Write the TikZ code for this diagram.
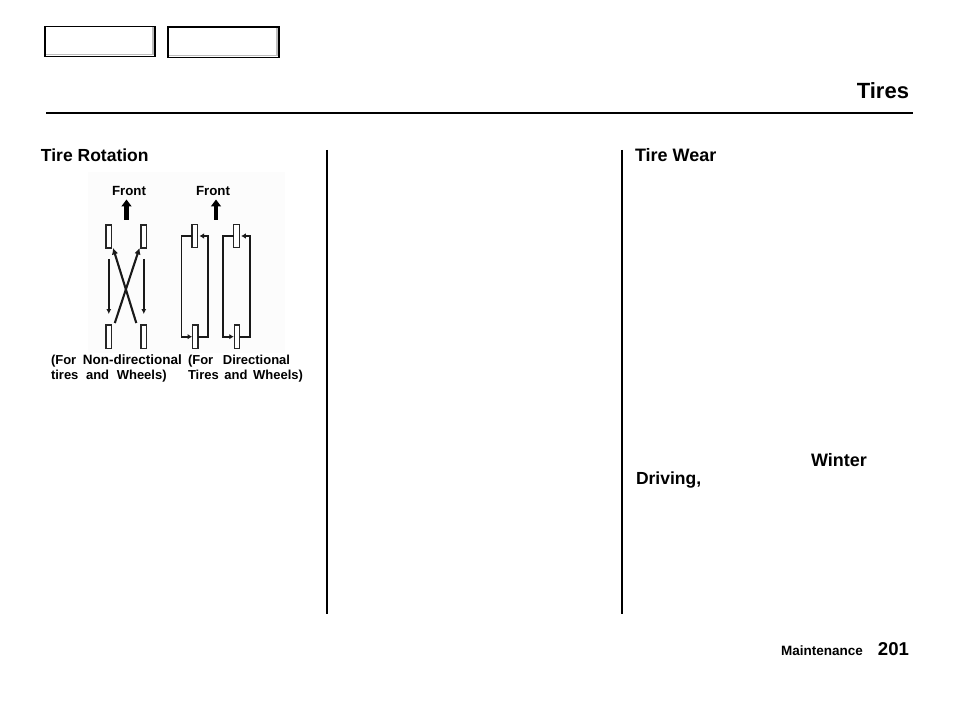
\documentclass[tikz,border=0pt]{standalone}
\usepackage{fontspec}
\setmainfont{Liberation Sans}
\usetikzlibrary{arrows.meta}
\definecolor{btnshadow}{HTML}{BDBDBD}
\newcommand{\bfs}[1]{\fontsize{#1}{#1}\selectfont\bfseries}
\tikzset{
  x=1pt,y=-1pt,
  lbl/.style={inner sep=0pt,outer sep=0pt,anchor=base west},
  lble/.style={inner sep=0pt,outer sep=0pt,anchor=base east},
  heading/.style={lbl,font=\bfs{17.5}},
  headingw/.style={lbl,font=\bfs{18}},
  caption/.style={lbl,font=\bfs{13}},
  frontlbl/.style={inner sep=0pt,outer sep=0pt,anchor=base,font=\bfs{13.3}},
  tire/.style={draw=black!85,line width=1.3pt,fill=white,minimum width=5.5pt,minimum height=22.8pt,inner sep=0pt,outer sep=0pt},
  tireb/.style={tire,minimum height=23.3pt},
  rule/.style={draw=black,line width=1.5pt},
  thin arrow/.style={draw=black!90,line width=1.6pt,-{Latex[length=5pt,width=5pt]}},
  cross arrow/.style={draw=black!90,line width=2.1pt,-{Latex[length=6.5pt,width=6.5pt]}},
  loop arrow/.style={draw=black!90,line width=1.8pt,-{Latex[length=4.5pt,width=5.5pt]}},
  big arrow/.style={draw=black,line width=4.6pt,-{Triangle[length=7pt,width=10pt]}},
  button/.style={draw=black,fill=white,inner sep=0pt,outer sep=0pt},
}
\begin{document}
\begin{tikzpicture}
\useasboundingbox (0,0) rectangle (954,714);
\fill[white] (0,0) rectangle (954,714);
% faint scan background
\fill[black!1] (88,172) rectangle (285,353);

% buttons
\node[button,line width=1.6pt,minimum width=110pt,minimum height=30pt] (btna) at (99.8,41.5) {};
\draw[btnshadow,line width=1.6pt] ([shift={(-1.8,1)}]btna.north east) -- ([shift={(-1.8,-1.8)}]btna.south east) -- ([shift={(1,-1.8)}]btna.south west);
\node[button,line width=1.6pt,minimum width=111pt,minimum height=30.5pt] (btnb) at (223.2,42.2) {};
\draw[black,line width=2.4pt] (btnb.north west) -- (btnb.north east);
\draw[btnshadow,line width=1.6pt] ([shift={(-1.8,1.5)}]btnb.north east) -- ([shift={(-1.8,-1.8)}]btnb.south east) -- ([shift={(1,-1.8)}]btnb.south west);

% title and rules
\node[lble,font=\bfs{22}] (title) at (909,99) {Tires};
\coordinate (ruleL) at (46,113);
\coordinate (ruleR) at (912.5,113);
\draw[black,line width=2.4pt] (ruleL) -- (ruleR);
\coordinate (c1t) at (327,150); \coordinate (c1b) at (327,614);
\coordinate (c2t) at (622,150); \coordinate (c2b) at (622,614);
\draw[rule] (c1t) -- (c1b);
\draw[rule] (c2t) -- (c2b);

% headings
\node[heading] (h1) at (41,162) {Tire Rotation};
\node[headingw] (h2) at (635,162) {Tire Wear};
\node[headingw] (h3) at (811,466) {Winter};
\node[heading] (h4) at (636,484) {Driving,};

% Front labels and arrows
\node[frontlbl] (f1) at (129,196) {Front};
\node[frontlbl] (f2) at (213,196) {Front};
\coordinate (fa1) at (126.5,220); \coordinate (fa1t) at (126.5,199.5);
\coordinate (fa2) at (216,220); \coordinate (fa2t) at (216,199.5);
\draw[big arrow] (fa1) -- (fa1t);
\draw[big arrow] (fa2) -- (fa2t);

% non-directional tires
\node[tire] (tl) at (108.8,236.5) {};
\node[tire] (tr) at (143.8,236.5) {};
\node[tireb] (bl) at (108.8,336.7) {};
\node[tireb] (br) at (143.8,336.7) {};
\draw[thin arrow,shorten <=11pt,shorten >=11pt] (tl) -- (bl);
\draw[thin arrow,shorten <=11pt,shorten >=11pt] (tr) -- (br);
\draw[cross arrow] ([shift={(-7.5,-2)}]br.north) -- ([shift={(1.5,0)}]tl.south east);
\draw[cross arrow] ([shift={(6,-2)}]bl.north) -- ([shift={(-1.5,0)}]tr.south west);

% directional tires
\node[tire] (ua) at (194.8,236) {};
\node[tire] (ub) at (236.5,236) {};
\node[tireb] (la) at (195.3,336.7) {};
\node[tireb] (lb) at (237,336.7) {};
\draw[loop arrow] (ua.west) -- ++(-10.5,0) |- ([xshift=-0.5pt]la.west);
\draw[loop arrow] (la.east) -- ++(10,0) |- ([xshift=2pt]ua.east);
\draw[loop arrow] (ub.west) -- ++(-11,0) |- ([xshift=-0.5pt]lb.west);
\draw[loop arrow] (lb.east) -- ++(10,0) |- ([xshift=2pt]ub.east);

% captions
\node[caption] (c1) at (51,364) {(For\hspace{3pt} {\bfs{13.5}Non-directional}};
\node[caption] (c2) at (51,379) {tires\hspace{4pt} and\hspace{4pt} Wheels)};
\node[caption] (c3) at (188,364) {(For\hspace{6pt} Directional};
\node[caption] (c4) at (188,379) {Tires\hspace{2pt} and\hspace{2pt} Wheels)};

% footer
\node[lbl,font=\bfs{13.5}] (m) at (781,655) {Maintenance};
\node[lble,font=\bfs{18.6}] (p) at (909,655) {201};
\end{tikzpicture}
\end{document}
